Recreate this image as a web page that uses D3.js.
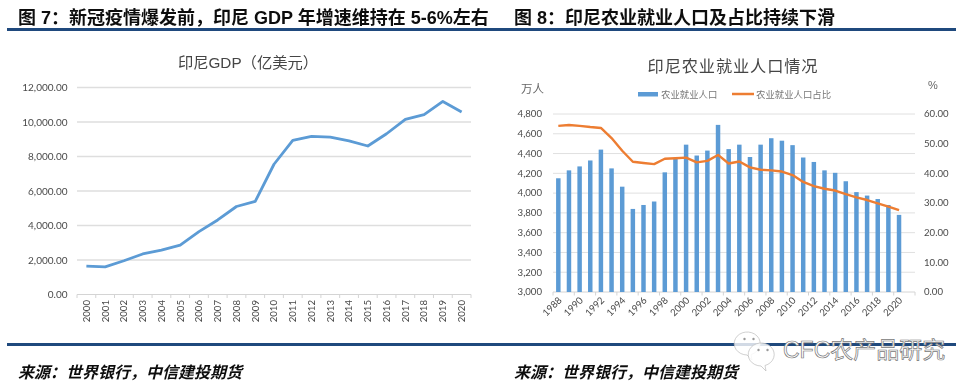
<!DOCTYPE html>
<html lang="zh"><head><meta charset="utf-8">
<style>
html,body{margin:0;padding:0;background:#fff}
svg{display:block}
.cjk{font-family:"Liberation Sans","Noto Sans CJK SC",sans-serif}
.tick-label{font-family:"Lato","Open Sans",sans-serif;fill:#4a4a4a}
</style>
<script src="https://cdn.jsdelivr.net/npm/d3@7"></script>
</head><body>
<svg id="c" width="975" height="392" viewBox="0 0 975 392"></svg>
<script>
const gdpYears = d3.range(2000, 2021).map(String);
const gdpValues = [1650,1604,1956,2349,2569,2859,3646,4321,5102,5395,7551,8929,9170,9125,8908,8609,9319,10155,10425,11191,10584];
const gdpTicks = [0,2000,4000,6000,8000,10000,12000];
const agriYears = d3.range(1988, 2021).map(String);
const agriLabour = [4150,4230,4270,4330,4440,4250,4065,3840,3880,3915,4210,4345,4490,4380,4430,4690,4445,4490,4365,4490,4555,4530,4485,4360,4315,4230,4205,4120,4010,3975,3940,3880,3780];
const agriShare = [56,56.3,56,55.6,55.3,51.9,47.6,43.9,43.5,43.1,44.9,45.1,45.3,43.7,44.2,46.2,43.3,44,42,41.2,41,40.6,39.4,37.1,35.7,34.8,34.2,33,31.9,31,29.9,28.8,27.6];
const labourTicks = [3000,3200,3400,3600,3800,4000,4200,4400,4600,4800];
const shareTicks = [0,10,20,30,40,50,60];
const headings = ["图 7：新冠疫情爆发前，印尼 GDP 年增速维持在 5-6%左右","图 8：印尼农业就业人口及占比持续下滑"];
const source = "来源：世界银行，中信建投期货";
const titles = ["印尼GDP（亿美元）","印尼农业就业人口情况"];
const legendNames = ["农业就业人口","农业就业人口占比"];
const unitLeft = "万人", unitRight = "%", watermark = "CFC农产品研究";

const BLUE="#5b9bd5", ORANGE="#ed7d31", NAVY="#1f497d";
const svg = d3.select("#c");
const defs = svg.append("defs");
defs.append("filter").attr("id","soft").append("feGaussianBlur").attr("stdDeviation",0.4);

// page furniture
svg.selectAll(".rule").data([29.5,344.5]).join("rect").attr("x",7).attr("width",949)
  .attr("y",d=>d-1.5).attr("height",3).attr("fill",NAVY);
const blurred = svg.append("g").attr("filter","url(#soft)");
blurred.selectAll(".head").data(headings).join("text").attr("class","cjk")
  .attr("x",(d,i)=>i?514:18).attr("y",23.5).attr("font-size",18).attr("font-weight",700).attr("fill","#111")
  .text(d=>d);
blurred.selectAll(".src").data([18,514]).join("text").attr("class","cjk")
  .attr("x",d=>d).attr("y",378).attr("font-size",16).attr("font-weight",700).attr("font-style","italic").attr("fill","#111")
  .text(source);

// left chart
const g1 = svg.append("g").attr("filter","url(#soft)");
const x1 = d3.scaleBand().domain(gdpYears).range([77,471]);
const y1 = d3.scaleLinear().domain([0,12000]).range([294.5,87.5]);
g1.append("text").attr("class","cjk").attr("x",248).attr("y",68).attr("text-anchor","middle")
  .attr("font-size",15.3).attr("font-weight",400).attr("fill","#444").text(titles[0]);
g1.append("g").selectAll("line").data(gdpTicks.slice(1)).join("line")
  .attr("x1",77).attr("x2",471).attr("y1",y1).attr("y2",y1).attr("stroke","#dedede").attr("stroke-width",1.3);
g1.append("g").selectAll("text").data(gdpTicks).join("text").attr("class","tick-label")
  .attr("x",67.5).attr("y",d=>y1(d)+3.5).attr("text-anchor","end").attr("font-size",10)
  .text(d=>d3.format(",.2f")(d));
g1.append("line").attr("x1",77).attr("x2",471).attr("y1",y1(0)).attr("y2",y1(0)).attr("stroke","#d4d4d4").attr("stroke-width",1.2);
g1.append("g").selectAll("line").data(gdpYears.concat("end")).join("line")
  .attr("x1",(d,i)=>77+i*x1.step()).attr("x2",(d,i)=>77+i*x1.step())
  .attr("y1",y1(0)).attr("y2",y1(0)+3.5).attr("stroke","#d4d4d4");
g1.append("g").selectAll("text").data(gdpYears).join("text").attr("class","tick-label")
  .attr("font-size",9.6).attr("text-anchor","end")
  .attr("transform",d=>`translate(${x1(d)+x1.bandwidth()/2+3.4},300) rotate(-90)`).text(d=>d);
g1.append("path").datum(gdpValues).attr("fill","none").attr("stroke",BLUE).attr("stroke-width",2.8)
  .attr("stroke-linejoin","round")
  .attr("d",d3.line().x((d,i)=>x1(gdpYears[i])+x1.bandwidth()/2).y(d=>y1(d)));

// right chart: the category axis keeps one empty slot after 2020
const g2 = svg.append("g").attr("filter","url(#soft)");
const x2 = d3.scaleBand().domain(agriYears.concat("")).range([553,915]).paddingInner(0.58).paddingOuter(0.29);
const y2 = d3.scaleLinear().domain([3000,4800]).range([292,114]);
const y3 = d3.scaleLinear().domain([0,60]).range([292,114]);
g2.append("text").attr("class","cjk").attr("x",733).attr("y",72).attr("text-anchor","middle")
  .attr("font-size",16.2).attr("letter-spacing",0.9).attr("font-weight",400).attr("fill","#444").text(titles[1]);
g2.append("text").attr("class","cjk").attr("x",521).attr("y",93).attr("font-size",11.5).attr("fill","#666").text(unitLeft);
g2.append("text").attr("class","cjk").attr("x",928).attr("y",89).attr("font-size",11).attr("fill","#666").text(unitRight);
g2.append("rect").attr("x",638).attr("y",92).attr("width",20).attr("height",4.5).attr("fill",BLUE);
g2.append("text").attr("class","cjk").attr("x",661).attr("y",98).attr("font-size",9.4).attr("fill","#777").text(legendNames[0]);
g2.append("line").attr("x1",732).attr("x2",754).attr("y1",94).attr("y2",94).attr("stroke",ORANGE).attr("stroke-width",2.5);
g2.append("text").attr("class","cjk").attr("x",756).attr("y",98).attr("font-size",9.4).attr("fill","#777").text(legendNames[1]);
g2.append("g").selectAll("line").data(labourTicks.slice(1)).join("line")
  .attr("x1",553).attr("x2",915).attr("y1",y2).attr("y2",y2).attr("stroke","#e0e0e0").attr("stroke-width",1);
g2.append("g").selectAll("text").data(labourTicks).join("text").attr("class","tick-label")
  .attr("x",542).attr("y",d=>y2(d)+3.3).attr("text-anchor","end").attr("font-size",9.6)
  .text(d=>d3.format(",")(d));
g2.append("g").selectAll("text").data(shareTicks).join("text").attr("class","tick-label")
  .attr("x",924).attr("y",d=>y3(d)+3.3).attr("font-size",9.6)
  .text(d=>d3.format(".2f")(d));
g2.append("line").attr("x1",553).attr("x2",915).attr("y1",292).attr("y2",292).attr("stroke","#d4d4d4");
g2.append("g").selectAll("line").data(d3.range(0,35,2)).join("line")
  .attr("x1",d=>553+d*x2.step()).attr("x2",d=>553+d*x2.step())
  .attr("y1",292).attr("y2",295.5).attr("stroke","#d4d4d4");
g2.append("g").selectAll("rect").data(agriLabour).join("rect")
  .attr("x",(d,i)=>x2(agriYears[i])).attr("width",x2.bandwidth())
  .attr("y",d=>y2(d)).attr("height",d=>y2(3000)-y2(d)).attr("fill",BLUE);
g2.append("path").datum(agriShare).attr("fill","none").attr("stroke",ORANGE).attr("stroke-width",2.4)
  .attr("stroke-linejoin","round")
  .attr("d",d3.line().x((d,i)=>x2(agriYears[i])+x2.bandwidth()/2).y(d=>y3(d)));
g2.append("g").selectAll("text").data(agriYears.filter((d,i)=>i%2===0)).join("text").attr("class","tick-label")
  .attr("font-size",9.6).attr("text-anchor","end")
  .attr("transform",d=>`translate(${x2(d)+x2.bandwidth()/2+4},301) rotate(-45)`).text(d=>d);

// watermark
const wm = svg.append("g");
const bubble = (x,y,s,fill)=>{
  const b = wm.append("g").attr("transform",`translate(${x},${y}) scale(${s})`);
  b.append("path").attr("d","M12 24 L17 29 L16 23.5 A13 11.5 0 1 0 12 24 Z").attr("fill",fill).attr("stroke","#bbb").attr("stroke-width",0.7);
  b.selectAll("circle").data([-4.5,4.5]).join("circle").attr("cx",d=>14+d).attr("cy",8).attr("r",1.2).attr("fill","#999");
};
bubble(735,331,1,"rgba(255,255,255,.8)");
bubble(749,342,1,"rgba(255,255,255,.85)");
wm.append("text").attr("class","cjk").attr("x",783).attr("y",358).attr("font-size",23).attr("fill","#fff")
  .attr("stroke","#777").attr("stroke-width",0.7).text(watermark);
</script>
</body></html>
